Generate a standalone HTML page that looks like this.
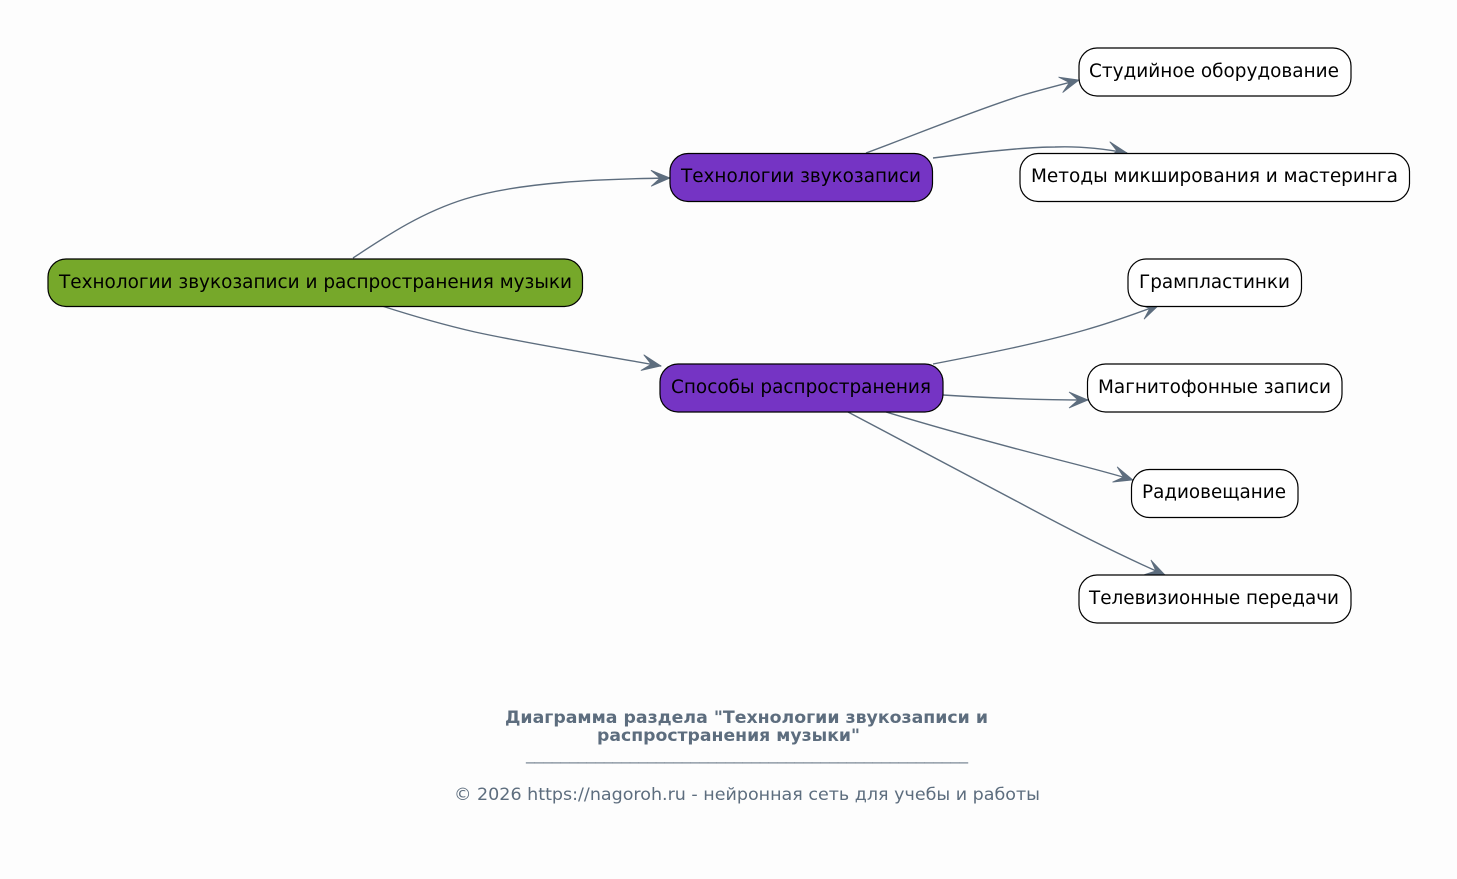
<!DOCTYPE html>
<html><head><meta charset="utf-8"><style>
html,body{margin:0;padding:0;background:#fdfdfd}
svg{display:block}
text{font-family:"DejaVu Sans",sans-serif}
.n{font-size:18.4px;fill:#000}
.t{font-size:16.4px;fill:#5d6d7e}
.e{fill:none;stroke:#5d6d7e;stroke-width:1.4;marker-end:url(#v)}
.b{stroke:#000;stroke-width:1.2}
</style></head><body>
<svg width="1457" height="879" viewBox="0 0 1457 879" xmlns="http://www.w3.org/2000/svg">
<defs><marker id="v" markerUnits="userSpaceOnUse" markerWidth="22" markerHeight="20" refX="19" refY="9" orient="auto" overflow="visible"><path d="M19 9L0 1L9 9L0 17Z" fill="#5d6d7e" stroke="#5d6d7e" stroke-width=".8"/></marker></defs>
<rect width="1457" height="879" fill="#fdfdfd"/>
<path class="e" d="M353 258C385 237 420 213 465 199C520 182 600 179 670 178"/>
<path class="e" d="M382 306C410 315 440 324 475 332C530 344 600 355 661 366"/>
<path class="e" d="M866 153C915 135 970 112 1020 96C1040 90 1060 85 1079 80"/>
<path class="e" d="M933 158C980 152 1025 147 1055 147C1080 146 1105 149 1127 153"/>
<path class="e" d="M933 364C985 354 1040 343 1085 330C1110 323 1135 314 1159 305"/>
<path class="e" d="M943 395C990 398 1040 400 1088 400"/>
<path class="e" d="M886 412C935 427 990 442 1040 455C1070 463 1100 470 1133 480"/>
<path class="e" d="M848 412C900 440 960 471 1020 503C1070 530 1120 555 1165 575"/>
<rect class="b" x="48" y="259" width="534.5" height="47.5" rx="18" fill="#76a82a"/>
<text class="n" x="59" y="288" textLength="513" lengthAdjust="spacingAndGlyphs">Технологии звукозаписи и распространения музыки</text>
<rect class="b" x="670" y="153.500" width="262.500" height="48" rx="18" fill="#7534c4"/>
<text class="n" x="681" y="182" textLength="240" lengthAdjust="spacingAndGlyphs">Технологии звукозаписи</text>
<rect class="b" x="660" y="364" width="283" height="48" rx="18" fill="#7534c4"/>
<text class="n" x="671" y="393" textLength="260" lengthAdjust="spacingAndGlyphs">Способы распространения</text>
<rect class="b" x="1079" y="48" width="272" height="48" rx="18" fill="#fff"/>
<text class="n" x="1089" y="77" textLength="250" lengthAdjust="spacingAndGlyphs">Студийное оборудование</text>
<rect class="b" x="1020" y="153.500" width="389.500" height="48" rx="18" fill="#fff"/>
<text class="n" x="1031" y="182" textLength="367" lengthAdjust="spacingAndGlyphs">Методы микширования и мастеринга</text>
<rect class="b" x="1128" y="259" width="173.500" height="47.500" rx="18" fill="#fff"/>
<text class="n" x="1139" y="288" textLength="151" lengthAdjust="spacingAndGlyphs">Грампластинки</text>
<rect class="b" x="1087.500" y="364" width="254.500" height="48" rx="18" fill="#fff"/>
<text class="n" x="1098" y="393" textLength="233" lengthAdjust="spacingAndGlyphs">Магнитофонные записи</text>
<rect class="b" x="1131.500" y="469.500" width="166.500" height="48" rx="18" fill="#fff"/>
<text class="n" x="1142" y="498" textLength="144" lengthAdjust="spacingAndGlyphs">Радиовещание</text>
<rect class="b" x="1079" y="575" width="272" height="48" rx="18" fill="#fff"/>
<text class="n" x="1089" y="604" textLength="250" lengthAdjust="spacingAndGlyphs">Телевизионные передачи</text>
<text class="t" x="505" y="723" font-weight="bold" textLength="483" lengthAdjust="spacingAndGlyphs">Диаграмма раздела "Технологии звукозаписи и</text>
<text class="t" x="597" y="741" font-weight="bold" textLength="263" lengthAdjust="spacingAndGlyphs">распространения музыки"</text>
<text class="t" x="526" y="759.500" textLength="442" lengthAdjust="spacingAndGlyphs" fill-opacity=".85">___________________________________________________</text>
<text class="t" x="454" y="800" textLength="586" lengthAdjust="spacingAndGlyphs">© 2026 https://nagoroh.ru - нейронная сеть для учебы и работы</text>
</svg>
</body></html>
